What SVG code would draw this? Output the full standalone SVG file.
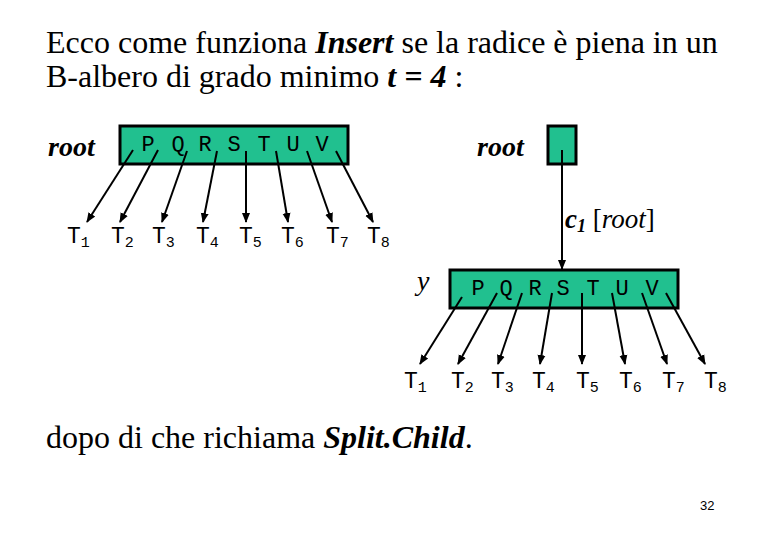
<svg xmlns="http://www.w3.org/2000/svg" width="780" height="540" viewBox="0 0 780 540">
<style>
.s{font-family:"Liberation Serif","Times New Roman",serif;fill:#000}
.m{font-family:"Liberation Mono","Courier New",monospace;fill:#000}
.bi{font-weight:bold;font-style:italic}
.k{font-size:22px;text-anchor:middle}
.tl{font-size:23px}
.sb{font-size:15px}
.node{fill:#21C08F;stroke:#000;stroke-width:3}
.c{stroke:#000;stroke-width:2;fill:none;marker-end:url(#ah)}
</style>
<defs>
<marker id="ah" markerWidth="10" markerHeight="10" refX="9" refY="5" orient="auto" markerUnits="userSpaceOnUse">
<path d="M0,1 L10,5 L0,9 Z" fill="#000"/>
</marker>
</defs>
<rect width="780" height="540" fill="#fff"/>
<g id="title" class="s">
<text x="46" y="53" font-size="32">Ecco come funziona <tspan class="bi">Insert</tspan> se la radice è piena in un</text>
<text x="46" y="87" font-size="32">B-albero di grado minimo <tspan class="bi">t = 4</tspan> :</text>
</g>
<g id="root-left">
<text class="s bi" x="48" y="156" font-size="28">root</text>
<rect class="node" x="120" y="126" width="228" height="38"/>
<g class="m k">
<text x="148" y="151">P</text><text x="178" y="151">Q</text><text x="205" y="151">R</text><text x="234" y="151">S</text><text x="264" y="151">T</text><text x="293" y="151">U</text><text x="322" y="151">V</text>
</g>
</g>
<g id="subtrees-left" class="m">
<text x="67" y="243" class="tl">T<tspan class="sb" dy="4">1</tspan></text>
<text x="111" y="243" class="tl">T<tspan class="sb" dy="4">2</tspan></text>
<text x="152" y="243" class="tl">T<tspan class="sb" dy="4">3</tspan></text>
<text x="196" y="243" class="tl">T<tspan class="sb" dy="4">4</tspan></text>
<text x="239" y="243" class="tl">T<tspan class="sb" dy="4">5</tspan></text>
<text x="281" y="243" class="tl">T<tspan class="sb" dy="4">6</tspan></text>
<text x="326" y="243" class="tl">T<tspan class="sb" dy="4">7</tspan></text>
<text x="367" y="243" class="tl">T<tspan class="sb" dy="4">8</tspan></text>
</g>
<g id="root-right">
<text class="s bi" x="477" y="156" font-size="28">root</text>
<rect class="node" x="548" y="126" width="28" height="38"/>
</g>
<g id="label-c1" class="s">
<text x="565" y="228" font-size="27"><tspan class="bi">c</tspan><tspan class="bi" font-size="18" dy="4">1</tspan><tspan dy="-4"> [</tspan><tspan font-style="italic">root</tspan>]</text>
</g>
<g id="node-y">
<text class="s" x="417" y="290" font-size="28" font-style="italic">y</text>
<rect class="node" x="450" y="270" width="228" height="38"/>
<g class="m k">
<text x="478" y="295">P</text><text x="506" y="295">Q</text><text x="535" y="295">R</text><text x="563" y="295">S</text><text x="593" y="295">T</text><text x="622" y="295">U</text><text x="652" y="295">V</text>
</g>
</g>
<g id="subtrees-right" class="m">
<text x="404" y="388" class="tl">T<tspan class="sb" dy="4">1</tspan></text>
<text x="451" y="388" class="tl">T<tspan class="sb" dy="4">2</tspan></text>
<text x="491" y="388" class="tl">T<tspan class="sb" dy="4">3</tspan></text>
<text x="532" y="388" class="tl">T<tspan class="sb" dy="4">4</tspan></text>
<text x="576" y="388" class="tl">T<tspan class="sb" dy="4">5</tspan></text>
<text x="619" y="388" class="tl">T<tspan class="sb" dy="4">6</tspan></text>
<text x="662" y="388" class="tl">T<tspan class="sb" dy="4">7</tspan></text>
<text x="704" y="388" class="tl">T<tspan class="sb" dy="4">8</tspan></text>
</g>
<g id="connectors">
<line class="c" x1="133" y1="150" x2="87" y2="222"/>
<line class="c" x1="158" y1="150" x2="120" y2="222"/>
<line class="c" x1="187" y1="151" x2="162" y2="222"/>
<line class="c" x1="217" y1="151" x2="203" y2="222"/>
<line class="c" x1="246" y1="151" x2="246" y2="222"/>
<line class="c" x1="276" y1="151" x2="288" y2="222"/>
<line class="c" x1="307" y1="151" x2="332" y2="222"/>
<line class="c" x1="336" y1="151" x2="373" y2="222"/>
<line class="c" x1="562" y1="150" x2="562" y2="269"/>
<line class="c" x1="462" y1="297" x2="420" y2="364"/>
<line class="c" x1="497" y1="293" x2="458" y2="364"/>
<line class="c" x1="522" y1="293" x2="498" y2="364"/>
<line class="c" x1="552" y1="293" x2="540" y2="364"/>
<line class="c" x1="582" y1="293" x2="582" y2="364"/>
<line class="c" x1="612" y1="293" x2="625" y2="364"/>
<line class="c" x1="642" y1="293" x2="667" y2="364"/>
<line class="c" x1="666" y1="293" x2="705" y2="364"/>
</g>
<g id="footer">
<text class="s" x="46" y="448" font-size="32">dopo di che richiama <tspan class="bi">Split.Child</tspan>.</text>
<text x="700" y="510" font-family="Liberation Sans, Arial, sans-serif" font-size="13">32</text>
</g>
</svg>
